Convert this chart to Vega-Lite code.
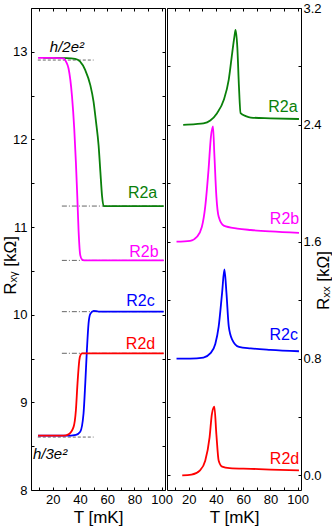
{
  "$schema": "https://vega.github.io/schema/vega-lite/v6.json",
  "padding": {"top": 1, "left": 0, "right": 0, "bottom": 0},
  "spacing": 2,
  "bounds": "flush",
  "config": {
    "font": "Liberation Sans",
    "view": {"stroke": "black", "strokeWidth": 1},
    "axis": {
      "domain": false, "grid": false, "tickColor": "black", "labelColor": "black", "titleColor": "black",
      "labelFont": "Liberation Sans", "titleFont": "Liberation Sans", "titleFontWeight": "normal",
      "labelFontSize": 13, "titleFontSize": 17, "tickSize": -3, "labelPadding": 6,
      "labelFlush": false, "labelOverlap": false, "minExtent": 0
    }
  },
  "datasets": {
    "xy": [
      {"s":"R2a","T":13,"R":12.93},{"s":"R2a","T":20,"R":12.93},{"s":"R2a","T":30,"R":12.928},{"s":"R2a","T":36.5,"R":12.92},{"s":"R2a","T":40,"R":12.89},{"s":"R2a","T":43.9,"R":12.79},{"s":"R2a","T":47.6,"R":12.62},{"s":"R2a","T":50,"R":12.43},{"s":"R2a","T":51.8,"R":12.2},{"s":"R2a","T":53.7,"R":11.93},{"s":"R2a","T":55,"R":11.63},{"s":"R2a","T":56.2,"R":11.36},{"s":"R2a","T":57.4,"R":11.24},{"s":"R2a","T":60,"R":11.24},{"s":"R2a","T":70,"R":11.24},{"s":"R2a","T":80,"R":11.24},{"s":"R2a","T":90,"R":11.24},{"s":"R2a","T":101.5,"R":11.24},
      {"s":"R2b","T":9.2,"R":12.93},{"s":"R2b","T":20,"R":12.93},{"s":"R2b","T":27.9,"R":12.925},{"s":"R2b","T":30,"R":12.88},{"s":"R2b","T":31.6,"R":12.81},{"s":"R2b","T":34.1,"R":12.5},{"s":"R2b","T":35.8,"R":12.12},{"s":"R2b","T":37,"R":11.74},{"s":"R2b","T":38,"R":11.36},{"s":"R2b","T":39,"R":10.95},{"s":"R2b","T":40.2,"R":10.68},{"s":"R2b","T":41.5,"R":10.63},{"s":"R2b","T":43,"R":10.62},{"s":"R2b","T":60,"R":10.62},{"s":"R2b","T":80,"R":10.62},{"s":"R2b","T":101.5,"R":10.62},
      {"s":"R2c","T":9.2,"R":8.62},{"s":"R2c","T":20,"R":8.62},{"s":"R2c","T":30,"R":8.62},{"s":"R2c","T":37,"R":8.63},{"s":"R2c","T":40.2,"R":8.665},{"s":"R2c","T":42.6,"R":8.87},{"s":"R2c","T":43.9,"R":9.22},{"s":"R2c","T":45.1,"R":9.6},{"s":"R2c","T":46.3,"R":9.9},{"s":"R2c","T":47.6,"R":10.01},{"s":"R2c","T":50,"R":10.045},{"s":"R2c","T":53.7,"R":10.035},{"s":"R2c","T":60,"R":10.035},{"s":"R2c","T":80,"R":10.035},{"s":"R2c","T":101.5,"R":10.035},
      {"s":"R2d","T":9.2,"R":8.62},{"s":"R2d","T":20,"R":8.62},{"s":"R2d","T":28,"R":8.62},{"s":"R2d","T":31.6,"R":8.635},{"s":"R2d","T":35.3,"R":8.72},{"s":"R2d","T":37,"R":8.91},{"s":"R2d","T":38.2,"R":9.22},{"s":"R2d","T":39.5,"R":9.48},{"s":"R2d","T":40.5,"R":9.545},{"s":"R2d","T":41.5,"R":9.56},{"s":"R2d","T":60,"R":9.56},{"s":"R2d","T":80,"R":9.56},{"s":"R2d","T":101.5,"R":9.56}
    ],
    "xx": [
      {"s":"R2a","T":15.9,"R":2.40},{"s":"R2a","T":25,"R":2.405},{"s":"R2a","T":30.8,"R":2.41},{"s":"R2a","T":35.8,"R":2.43},{"s":"R2a","T":40.8,"R":2.48},{"s":"R2a","T":45.7,"R":2.57},{"s":"R2a","T":49.4,"R":2.71},{"s":"R2a","T":51.9,"R":2.89},{"s":"R2a","T":53.5,"R":3.0},{"s":"R2a","T":54.4,"R":3.05},{"s":"R2a","T":55.7,"R":2.93},{"s":"R2a","T":56.9,"R":2.66},{"s":"R2a","T":58.1,"R":2.48},{"s":"R2a","T":61.9,"R":2.46},{"s":"R2a","T":65.6,"R":2.45},{"s":"R2a","T":80,"R":2.445},{"s":"R2a","T":101,"R":2.44},
      {"s":"R2b","T":11,"R":1.60},{"s":"R2b","T":21,"R":1.606},{"s":"R2b","T":26,"R":1.634},{"s":"R2b","T":29.6,"R":1.70},{"s":"R2b","T":32.1,"R":1.84},{"s":"R2b","T":34.5,"R":2.09},{"s":"R2b","T":36.3,"R":2.32},{"s":"R2b","T":37.8,"R":2.39},{"s":"R2b","T":38.8,"R":2.20},{"s":"R2b","T":40.3,"R":1.91},{"s":"R2b","T":42,"R":1.77},{"s":"R2b","T":45.7,"R":1.71},{"s":"R2b","T":55.7,"R":1.69},{"s":"R2b","T":65.6,"R":1.68},{"s":"R2b","T":80,"R":1.67},{"s":"R2b","T":101,"R":1.66},
      {"s":"R2c","T":11,"R":0.80},{"s":"R2c","T":21,"R":0.80},{"s":"R2c","T":30.8,"R":0.807},{"s":"R2c","T":35.8,"R":0.835},{"s":"R2c","T":39.5,"R":0.90},{"s":"R2c","T":42,"R":1.02},{"s":"R2c","T":44.5,"R":1.25},{"s":"R2c","T":46.2,"R":1.41},{"s":"R2c","T":47.7,"R":1.25},{"s":"R2c","T":49.4,"R":1.02},{"s":"R2c","T":51.9,"R":0.93},{"s":"R2c","T":56.9,"R":0.88},{"s":"R2c","T":65.6,"R":0.87},{"s":"R2c","T":80,"R":0.86},{"s":"R2c","T":101,"R":0.85},
      {"s":"R2d","T":15.2,"R":0.0},{"s":"R2d","T":22,"R":0.005},{"s":"R2d","T":28.3,"R":0.035},{"s":"R2d","T":32.1,"R":0.10},{"s":"R2d","T":35.3,"R":0.26},{"s":"R2d","T":37,"R":0.42},{"s":"R2d","T":38.8,"R":0.47},{"s":"R2d","T":40.3,"R":0.28},{"s":"R2d","T":42,"R":0.10},{"s":"R2d","T":44.5,"R":0.06},{"s":"R2d","T":50,"R":0.05},{"s":"R2d","T":65.6,"R":0.045},{"s":"R2d","T":80,"R":0.04},{"s":"R2d","T":101,"R":0.035}
    ],
    "ref": [
      {"g":"h2","k":"dash","T":9,"R":12.906},{"g":"h2","k":"dash","T":50,"R":12.906},
      {"g":"h3","k":"dash","T":9,"R":8.604},{"g":"h3","k":"dash","T":50,"R":8.604},
      {"g":"pa","k":"dashdot","T":26.7,"R":11.24},{"g":"pa","k":"dashdot","T":101.5,"R":11.24},
      {"g":"pb","k":"dashdot","T":26.7,"R":10.62},{"g":"pb","k":"dashdot","T":101.5,"R":10.62},
      {"g":"pc","k":"dashdot","T":26.7,"R":10.035},{"g":"pc","k":"dashdot","T":101.5,"R":10.035},
      {"g":"pd","k":"dashdot","T":26.7,"R":9.56},{"g":"pd","k":"dashdot","T":101.5,"R":9.56}
    ],
    "labxy": [
      {"s":"R2a","T":86,"R":11.39,"text":"R2a"},
      {"s":"R2b","T":87,"R":10.72,"text":"R2b"},
      {"s":"R2c","T":84.5,"R":10.16,"text":"R2c"},
      {"s":"R2d","T":84.5,"R":9.67,"text":"R2d"}
    ],
    "quanta": [
      {"T":30.4,"R":13.06,"text":"h/2e²"},
      {"T":18,"R":8.41,"text":"h/3e²"}
    ],
    "labxx": [
      {"s":"R2a","T":89.2,"R":2.52,"text":"R2a"},
      {"s":"R2b","T":90.4,"R":1.755,"text":"R2b"},
      {"s":"R2c","T":89.8,"R":0.96,"text":"R2c"},
      {"s":"R2d","T":90.4,"R":0.112,"text":"R2d"}
    ]
  },
  "hconcat": [
    {
      "width": 134, "height": 482,
      "resolve": {"axis": {"x": "independent", "y": "independent"}},
      "layer": [
        {
          "data": {"name": "ref"},
          "mark": {"type": "line", "color": "#555555", "strokeWidth": 0.9},
          "encoding": {
            "x": {"field": "T", "type": "quantitative", "scale": {"domain": [4, 102.5], "nice": false, "zero": false},
                  "axis": {"orient": "top", "labels": false, "title": null, "maxExtent": 0, "values": [10,20,30,40,50,60,70,80,90,100]}},
            "y": {"field": "R", "type": "quantitative", "scale": {"domain": [8, 13.5], "nice": false, "zero": false},
                  "axis": {"orient": "right", "labels": false, "title": null, "maxExtent": 0, "values": [8,8.5,9,9.5,10,10.5,11,11.5,12,12.5,13,13.5]}},
            "detail": {"field": "g"},
            "strokeDash": {"field": "k", "type": "nominal", "scale": {"domain": ["dash","dashdot"], "range": [[3,2],[5,2,1,2]]}, "legend": null}
          }
        },
        {
          "data": {"name": "xy"},
          "mark": {"type": "line", "strokeWidth": 1.8, "interpolate": "monotone"},
          "encoding": {
            "x": {"field": "T", "type": "quantitative", "scale": {"domain": [4, 102.5], "nice": false, "zero": false},
                  "axis": {"orient": "bottom", "title": "T [mK]", "titlePadding": 3, "values": [10,20,30,40,50,60,70,80,90,100],
                           "labelExpr": "datum.value % 20 === 0 ? datum.label : ''"}},
            "y": {"field": "R", "type": "quantitative", "scale": {"domain": [8, 13.5], "nice": false, "zero": false},
                  "axis": {"orient": "left", "title": "Rₓᵧ [kΩ]", "titleX": -21, "titleY": 257, "titleAngle": 270, "titleAlign": "center", "titleBaseline": "middle",
                           "labelPadding": 7, "values": [8,8.5,9,9.5,10,10.5,11,11.5,12,12.5,13,13.5],
                           "labelExpr": "round(datum.value*2) % 2 === 0 ? format(datum.value, 'd') : ''"}},
            "color": {"field": "s", "type": "nominal", "scale": {"domain": ["R2a","R2b","R2c","R2d"], "range": ["#0a800a","#ff00ff","#0000ff","#ff0000"]}, "legend": null}
          }
        },
        {
          "data": {"name": "labxy"},
          "mark": {"type": "text", "fontSize": 16, "font": "Liberation Sans", "align": "center", "baseline": "middle"},
          "encoding": {
            "x": {"field": "T", "type": "quantitative", "axis": null},
            "y": {"field": "R", "type": "quantitative", "axis": null},
            "text": {"field": "text"},
            "color": {"field": "s", "type": "nominal", "legend": null}
          }
        },
        {
          "data": {"name": "quanta"},
          "mark": {"type": "text", "fontSize": 15, "fontStyle": "italic", "font": "Liberation Sans", "align": "center", "baseline": "middle", "color": "black"},
          "encoding": {
            "x": {"field": "T", "type": "quantitative", "axis": null},
            "y": {"field": "R", "type": "quantitative", "axis": null},
            "text": {"field": "text"}
          }
        }
      ]
    },
    {
      "width": 134, "height": 482,
      "resolve": {"axis": {"x": "independent", "y": "independent"}},
      "layer": [
        {
          "data": {"name": "xx"},
          "mark": {"type": "line", "strokeWidth": 1.8, "interpolate": "monotone"},
          "encoding": {
            "x": {"field": "T", "type": "quantitative", "scale": {"domain": [4, 102.5], "nice": false, "zero": false},
                  "axis": {"orient": "bottom", "title": "T [mK]", "titlePadding": 3, "values": [10,20,30,40,50,60,70,80,90,100],
                           "labelExpr": "datum.value % 20 === 0 ? datum.label : ''"}},
            "y": {"field": "R", "type": "quantitative", "scale": {"domain": [-0.1, 3.2], "nice": false, "zero": false},
                  "axis": {"orient": "right", "title": "Rₓₓ [kΩ]", "titleX": 22, "titleY": 272, "titleAngle": 270, "titleAlign": "center", "titleBaseline": "middle",
                           "labelPadding": 5,
                           "values": [0,0.4,0.8,1.2,1.6,2.0,2.4,2.8,3.2],
                           "labelExpr": "round(datum.value*10) % 8 === 0 ? format(datum.value, '.1f') : ''"}},
            "color": {"field": "s", "type": "nominal", "scale": {"domain": ["R2a","R2b","R2c","R2d"], "range": ["#0a800a","#ff00ff","#0000ff","#ff0000"]}, "legend": null}
          }
        },
        {
          "data": {"name": "labxx"},
          "mark": {"type": "text", "fontSize": 16, "font": "Liberation Sans", "align": "center", "baseline": "middle"},
          "encoding": {
            "x": {"field": "T", "type": "quantitative", "scale": {"domain": [4, 102.5], "nice": false, "zero": false},
                  "axis": {"orient": "top", "labels": false, "title": null, "maxExtent": 0, "values": [10,20,30,40,50,60,70,80,90,100]}},
            "y": {"field": "R", "type": "quantitative", "scale": {"domain": [-0.1, 3.2], "nice": false, "zero": false},
                  "axis": {"orient": "left", "labels": false, "title": null, "maxExtent": 0, "values": [0,0.4,0.8,1.2,1.6,2.0,2.4,2.8,3.2]}},
            "text": {"field": "text"},
            "color": {"field": "s", "type": "nominal", "legend": null}
          }
        }
      ]
    }
  ]
}
